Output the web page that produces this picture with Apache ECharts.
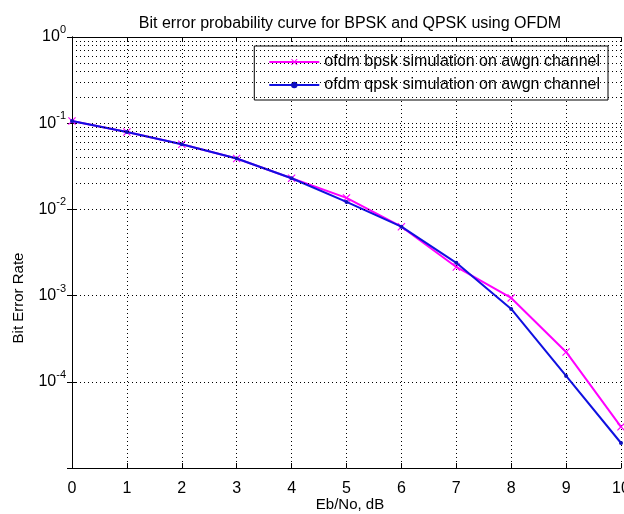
<!DOCTYPE html>
<html>
<head>
<meta charset="utf-8">
<script src="https://cdn.jsdelivr.net/npm/echarts@6/dist/echarts.min.js"></script>
<style>html,body{margin:0;padding:0;background:#fff}#c{width:624px;height:514px}</style>
</head>
<body>
<div id="c"></div>
<script>
const ebno = [0, 1, 2, 3, 4, 5, 6, 7, 8, 9, 10];
const bpskBer = [0.106, 0.079, 0.057, 0.039, 0.023, 0.0136, 0.0063, 0.00215, 0.00094, 0.000222, 0.000030];
const qpskBer = [0.106, 0.079, 0.057, 0.039, 0.023, 0.0122, 0.0063, 0.0024, 0.00070, 0.000117, 0.0000195];
const xTicks = [0, 1, 2, 3, 4, 5, 6, 7, 8, 9, 10];
const yDecades = [-5, -4, -3, -2, -1, 0];
const titleText = 'Bit error probability curve for BPSK and QPSK using OFDM';
const xName = 'Eb/No, dB';
const yName = 'Bit Error Rate';
const bpskName = 'ofdm bpsk simulation on awgn channel';
const qpskName = 'ofdm qpsk simulation on awgn channel';

const FONT = '"Liberation Sans", Arial, sans-serif';
const minorVals = [];
for (let i = 0; i < yDecades.length - 1; i++) {
  for (let m = 2; m <= 9; m++) minorVals.push(m * Math.pow(10, yDecades[i]));
}
const dotted = { type: [1, 3], color: '#000', width: 1 };

const chart = echarts.init(document.getElementById('c'), null, { renderer: 'canvas' });
chart.setOption({
  animation: false,
  backgroundColor: '#fff',
  textStyle: { fontFamily: FONT },
  title: {
    text: titleText, left: 345, top: 11, textAlign: 'center',
    textStyle: { fontFamily: FONT, fontSize: 16, fontWeight: 'normal', color: '#000' }
  },
  graphic: [{
    type: 'text', x: 350, y: 505,
    style: { text: xName, font: '15px ' + FONT, fill: '#000', align: 'center', verticalAlign: 'middle' }
  }, {
    type: 'text', x: 19, y: 298, rotation: Math.PI / 2,
    style: { text: yName, font: '15px ' + FONT, fill: '#000', align: 'center', verticalAlign: 'middle' }
  }],
  grid: { left: 72, right: 3, top: 37, bottom: 46, containLabel: false, outerBoundsMode: 'none' },
  legend: {
    orient: 'vertical', right: 16, top: 46,
    backgroundColor: '#fff', borderColor: '#000', borderWidth: 1,
    padding: [8, 8, 7, 14], itemGap: 7, itemWidth: 50, itemHeight: 8,
    textStyle: { fontFamily: FONT, fontSize: 16, color: '#000' },
    data: [bpskName, qpskName]
  },
  xAxis: [{
    type: 'value', min: xTicks[0], max: xTicks[xTicks.length - 1], interval: 1,
    axisLine: { lineStyle: { color: '#000', width: 1 } },
    axisTick: { inside: true, length: 5, lineStyle: { color: '#000' } },
    axisLabel: { fontFamily: FONT, fontSize: 16, color: '#000', margin: 13 },
    splitLine: { show: true, lineStyle: dotted }
  }, {
    type: 'value', position: 'top', min: xTicks[0], max: xTicks[xTicks.length - 1], interval: 1,
    axisLine: { lineStyle: { color: '#000', width: 1 } },
    axisTick: { inside: true, length: 5, lineStyle: { color: '#000' } },
    axisLabel: { show: false }, splitLine: { show: false }
  }],
  yAxis: [{
    type: 'log', logBase: 10, min: 1e-5, max: 1,
    axisLine: { lineStyle: { color: '#000', width: 1 } },
    axisTick: { inside: true, length: 5, lineStyle: { color: '#000' } },
    axisLabel: {
      margin: 6, color: '#000',
      formatter: v => { const e = Math.round(Math.log10(v)); return e === -5 ? '' : '{b|10}{e|' + e + '}'; },
      rich: {
        b: { fontFamily: FONT, fontSize: 16, color: '#000' },
        e: { fontFamily: FONT, fontSize: 11, color: '#000', padding: [0, 0, 14, 0] }
      }
    },
    splitLine: { show: true, lineStyle: dotted }
  }, {
    type: 'log', logBase: 10, min: 1e-5, max: 1, position: 'right',
    axisLine: { show: true, lineStyle: { color: '#000', width: 1 } },
    axisTick: { inside: true, length: 5, lineStyle: { color: '#000' } },
    axisLabel: { show: false }, splitLine: { show: false }
  }],
  series: [{
    name: 'minor', type: 'line', data: [], silent: true,
    markLine: {
      silent: true, symbol: 'none', label: { show: false },
      lineStyle: dotted, animation: false,
      data: minorVals.map(v => ({ yAxis: v }))
    }
  }, {
    name: bpskName, type: 'line',
    data: ebno.map((x, i) => [x, bpskBer[i]]),
    lineStyle: { color: '#ff00ff', width: 2 },
    itemStyle: { color: '#ff00ff' },
    symbol: 'path://M0,1L1,0L5,4L9,0L10,1L6,5L10,9L9,10L5,6L1,10L0,9L4,5Z',
    symbolSize: 8, showSymbol: true, z: 3
  }, {
    name: qpskName, type: 'line',
    data: ebno.map((x, i) => [x, qpskBer[i]]),
    lineStyle: { color: '#1010e0', width: 2 },
    itemStyle: { color: '#1010c0' },
    symbol: 'circle', symbolSize: 4, showSymbol: true, z: 4
  }]
});
</script>
</body>
</html>
